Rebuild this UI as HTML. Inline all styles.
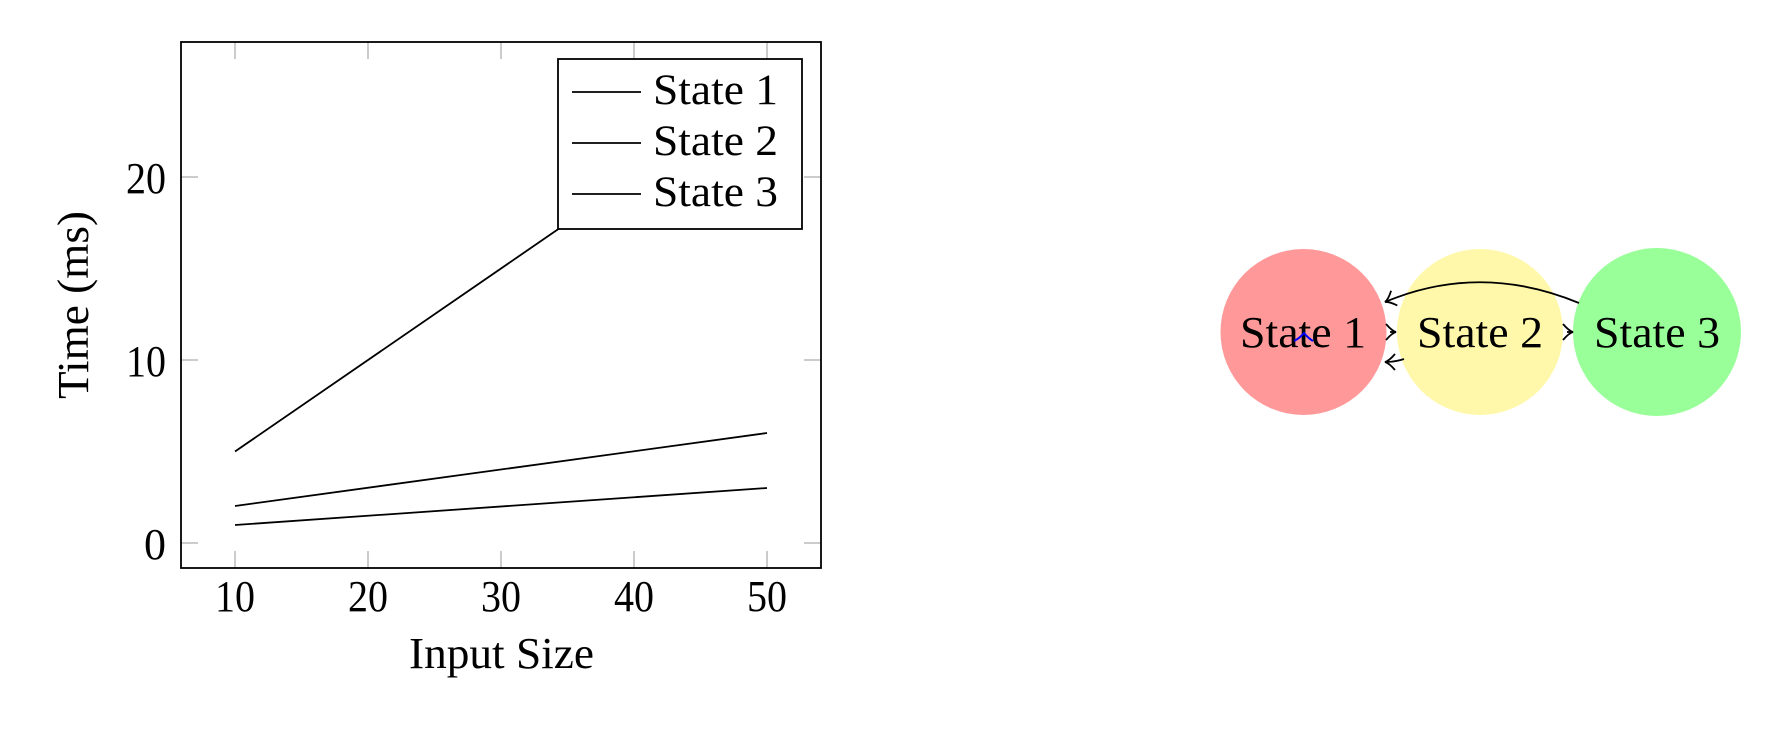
<!DOCTYPE html>
<html><head><meta charset="utf-8"><style>
html,body{margin:0;padding:0;background:#fff;}
svg{display:block;}
text{font-family:"Liberation Serif",serif;fill:#000;}
</style></head><body>
<svg width="1783" height="731" viewBox="0 0 1783 731" xmlns="http://www.w3.org/2000/svg">
<defs>
<marker id="ah" viewBox="-12 -10 14 20" markerWidth="14" markerHeight="20" refX="0" refY="0" orient="auto" markerUnits="userSpaceOnUse">
<path d="M-10,-8 Q-4,-1 0,0 Q-4,1 -10,8" fill="none" stroke="#000" stroke-width="1.8"/>
</marker>
</defs>
<g stroke="#999" stroke-width="1">
<line x1="235" y1="42" x2="235" y2="59"/><line x1="368" y1="42" x2="368" y2="59"/><line x1="501" y1="42" x2="501" y2="59"/><line x1="634" y1="42" x2="634" y2="59"/><line x1="767" y1="42" x2="767" y2="59"/>
<line x1="235" y1="568" x2="235" y2="551"/><line x1="368" y1="568" x2="368" y2="551"/><line x1="501" y1="568" x2="501" y2="551"/><line x1="634" y1="568" x2="634" y2="551"/><line x1="767" y1="568" x2="767" y2="551"/>
<line x1="181" y1="543" x2="198" y2="543"/><line x1="181" y1="360" x2="198" y2="360"/><line x1="181" y1="177" x2="198" y2="177"/>
<line x1="821" y1="543" x2="804" y2="543"/><line x1="821" y1="360" x2="804" y2="360"/><line x1="821" y1="177" x2="804" y2="177"/>
</g>
<g stroke="#000" stroke-width="1.8" fill="none">
<polyline points="235,451.5 767,85.5"/>
<polyline points="235,506 767,433"/>
<polyline points="235,525 767,488"/>
</g>
<rect x="181" y="42" width="640" height="526" fill="none" stroke="#000" stroke-width="1.8"/>
<rect x="558" y="59" width="244" height="170" fill="#fff" stroke="#000" stroke-width="1.8"/>
<g stroke="#000" stroke-width="1.8">
<line x1="572" y1="92" x2="641" y2="92"/><line x1="572" y1="143" x2="641" y2="143"/><line x1="572" y1="194" x2="641" y2="194"/>
</g>
<g font-size="43">
<text x="653" y="104" textLength="125" lengthAdjust="spacingAndGlyphs">State 1</text>
<text x="653" y="155" textLength="125" lengthAdjust="spacingAndGlyphs">State 2</text>
<text x="653" y="206" textLength="125" lengthAdjust="spacingAndGlyphs">State 3</text>
</g>
<g font-size="44" text-anchor="middle">
<text x="235" y="611" textLength="40" lengthAdjust="spacingAndGlyphs">10</text><text x="368" y="611" textLength="40" lengthAdjust="spacingAndGlyphs">20</text><text x="501" y="611" textLength="40" lengthAdjust="spacingAndGlyphs">30</text><text x="634" y="611" textLength="40" lengthAdjust="spacingAndGlyphs">40</text><text x="767" y="611" textLength="40" lengthAdjust="spacingAndGlyphs">50</text>
</g>
<g font-size="44" text-anchor="end">
<text x="166" y="559">0</text><text x="166" y="376" textLength="40" lengthAdjust="spacingAndGlyphs">10</text><text x="166" y="193" textLength="40" lengthAdjust="spacingAndGlyphs">20</text>
</g>
<text x="409" y="668" font-size="44" textLength="185" lengthAdjust="spacingAndGlyphs">Input Size</text>
<text transform="translate(88,305) rotate(-90)" font-size="44" text-anchor="middle" textLength="188" lengthAdjust="spacingAndGlyphs">Time (ms)</text>
<circle cx="1303.5" cy="332" r="83" fill="#ff9999"/>
<circle cx="1480" cy="332" r="83" fill="#fff8aa"/>
<circle cx="1657" cy="332" r="84" fill="#99ff99"/>
<g font-size="44">
<text x="1240" y="347" textLength="126" lengthAdjust="spacingAndGlyphs">State 1</text>
<text x="1417" y="347" textLength="126" lengthAdjust="spacingAndGlyphs">State 2</text>
<text x="1594" y="347" textLength="126" lengthAdjust="spacingAndGlyphs">State 3</text>
</g>
<path d="M1294,341 Q1300,338 1304,333 Q1308,338 1313,341" fill="none" stroke="#0000ff" stroke-width="2"/>
<g fill="none" stroke="#000" stroke-width="1.8">
<path d="M1579,303 Q1480,262 1385,302" marker-end="url(#ah)"/>
<path d="M1390,332 L1396,332" marker-end="url(#ah)"/>
<path d="M1567,332 L1573,332" marker-end="url(#ah)"/>
<path d="M1404,359 Q1395,362 1385,362" marker-end="url(#ah)"/>
</g>
</svg>
</body></html>
